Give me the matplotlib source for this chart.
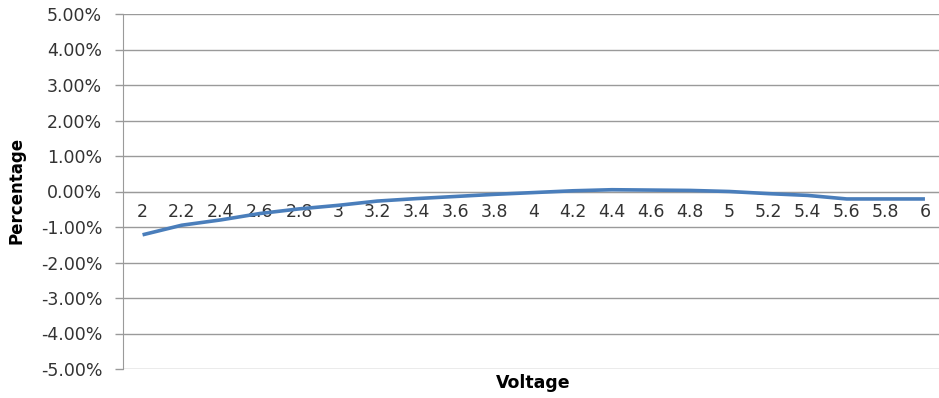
import matplotlib
matplotlib.use("Agg")
import matplotlib.pyplot as plt
from matplotlib.ticker import FuncFormatter

# Voltage sweep and relative deviation (percent)
voltages = ["2", "2.2", "2.4", "2.6", "2.8", "3", "3.2", "3.4", "3.6", "3.8", "4",
            "4.2", "4.4", "4.6", "4.8", "5", "5.2", "5.4", "5.6", "5.8", "6"]
deviation_pct = [-1.22, -0.95, -0.80, -0.62, -0.49, -0.39, -0.27, -0.20, -0.14, -0.08, -0.03,
                 0.02, 0.05, 0.04, 0.03, 0.00, -0.06, -0.11, -0.21, -0.21, -0.21]
y_ticks = [-5, -4, -3, -2, -1, 0, 1, 2, 3, 4, 5]

W, H = 939, 398
fig = plt.figure(figsize=(W / 100, H / 100), dpi=100)
plt.rcParams["font.family"] = ["DejaVu Sans"]

left, right = 123, 944.5
top, bottom = 14, 369
ax = fig.add_axes([left / W, (H - bottom) / H, (right - left) / W, (bottom - top) / H])

text_color = "#333333"
grid_color = "#9a9a9a"

x = list(range(len(voltages)))
ax.plot(x, deviation_pct, color="#4A7EBB", linewidth=2.6, solid_capstyle="butt", zorder=3)

ax.set_xlim(-0.5, len(voltages) - 0.5)
ax.set_ylim(-5, 5)
ax.set_yticks(y_ticks)
ax.yaxis.set_major_formatter(FuncFormatter(lambda v, p: f"{v:.2f}%"))
ax.grid(axis="y", color=grid_color, linewidth=1.0, zorder=1)

ax.set_xticks(x)
ax.set_xticklabels(voltages)
ax.spines["bottom"].set_position(("data", 0))
ax.spines["bottom"].set_color(grid_color)
ax.spines["top"].set_visible(False)
ax.spines["right"].set_visible(False)
ax.spines["left"].set_color(grid_color)

ax.tick_params(axis="x", length=0, pad=8, labelsize=12.5, labelcolor=text_color)
ax.tick_params(axis="y", length=6, width=1, color=grid_color, pad=9,
               labelsize=12.5, labelcolor=text_color)

fig.text(17 / W, 1 - 190 / H, "Percentage", rotation=90, ha="center", va="center",
         fontsize=12, fontweight="bold", color="#000000")
fig.text(533 / W, 1 - 383 / H, "Voltage", ha="center", va="center",
         fontsize=12.5, fontweight="bold", color="#000000")

fig.savefig("out.png", dpi=100)
